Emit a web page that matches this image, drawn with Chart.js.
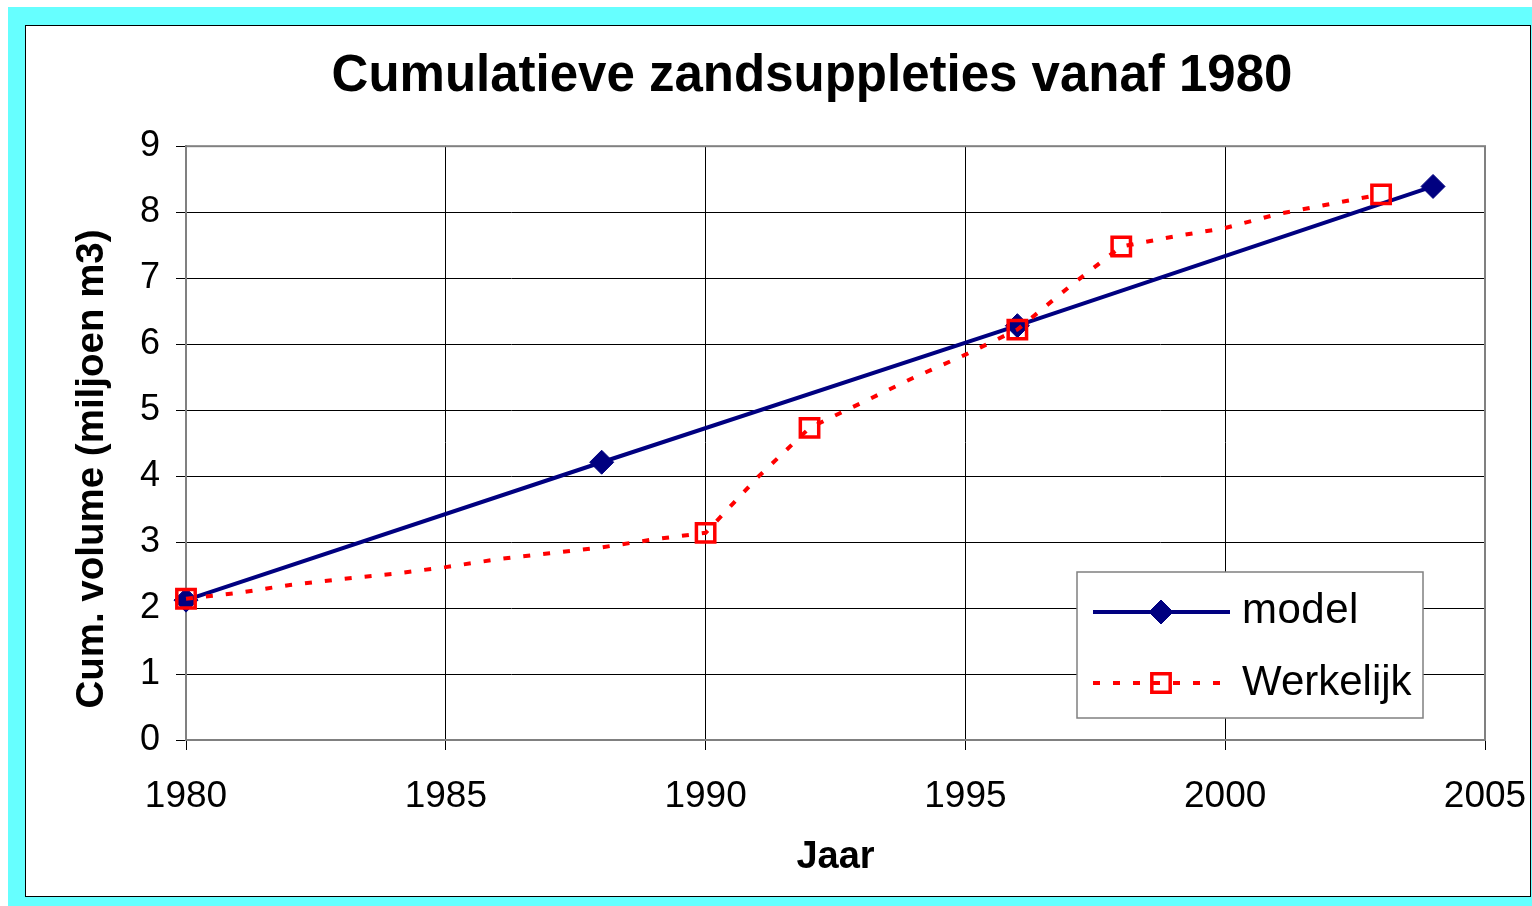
<!DOCTYPE html>
<html>
<head>
<meta charset="utf-8">
<title>Cumulatieve zandsuppleties vanaf 1980</title>
<script src="https://cdn.jsdelivr.net/npm/chart.js@4.4.1/dist/chart.umd.min.js"></script>
<style>
  body { margin: 0; background: #fff; width: 1532px; height: 906px; overflow: hidden; position: relative; }
  #rand { position: absolute; left: 8px; top: 7px; width: 1524px; height: 899px; background: #66ffff; }
  #vlak { position: absolute; left: 25px; top: 25px; width: 1506px; height: 872px; background: #fff; border: 1px solid #000; box-sizing: border-box; }
  #grafiek { position: absolute; left: 0; top: 0; z-index: 1; }
</style>
</head>
<body>
<div id="rand"></div>
<div id="vlak"></div>
<canvas id="grafiek" width="1532" height="906"></canvas>
<script>
// Gegevens
const modelJaren = [1980, 1988, 1996, 2004];
const modelVolume = [2.12, 4.21, 6.28, 8.39];

const werkelijkJaren = [1980, 1981, 1982, 1983, 1984, 1985, 1986, 1987, 1988, 1989, 1990, 1991,
  1992, 1993, 1994, 1995, 1996, 1997, 1998, 1999, 2000, 2001, 2002, 2003];
const werkelijkVolume = [2.14, 2.23, 2.35, 2.44, 2.52, 2.62, 2.74, 2.83, 2.92, 3.04, 3.14, 3.98,
  4.73, 5.11, 5.49, 5.84, 6.22, 6.87, 7.48, 7.63, 7.76, 7.97, 8.12, 8.27];
// jaren waarop een marker staat
const markerJaren = [1980, 1990, 1992, 1996, 1998, 2003];

const xTicks = [1980, 1985, 1990, 1995, 2000, 2005];
const yTicks = [0, 1, 2, 3, 4, 5, 6, 7, 8, 9];

const FONT = "'Liberation Sans', Arial, sans-serif";
Chart.defaults.font.family = FONT;
Chart.defaults.color = "#000";

// Kader rond het plotgebied (grijs, zoals Excel)
const kaderPlugin = {
  id: "kader",
  beforeDatasetsDraw(chart) {
    const { ctx, chartArea: a } = chart;
    ctx.save();
    ctx.strokeStyle = "#808080";
    ctx.lineWidth = 2;
    ctx.strokeRect(a.left, a.top, a.right - a.left, a.bottom - a.top);
    ctx.restore();
  },
};

// As-titel links (gedraaid)
const yTitelPlugin = {
  id: "yTitel",
  afterDraw(chart) {
    const ctx = chart.ctx;
    ctx.save();
    ctx.translate(92, 469);
    ctx.rotate(-Math.PI / 2);
    ctx.font = "bold 38.5px " + FONT;
    ctx.fillStyle = "#000";
    ctx.textAlign = "center";
    ctx.textBaseline = "middle";
    ctx.fillText("Cum. volume (miljoen m3)", 0, 0);
    ctx.restore();
  },
};

// Legenda in het plotgebied
const legendaPlugin = {
  id: "legenda",
  afterDraw(chart) {
    const ctx = chart.ctx;
    const box = { x: 1077, y: 572, w: 346, h: 146 };
    ctx.save();
    ctx.fillStyle = "#fff";
    ctx.fillRect(box.x, box.y, box.w, box.h);
    ctx.strokeStyle = "#808080";
    ctx.lineWidth = 1.5;
    ctx.strokeRect(box.x, box.y, box.w, box.h);
    ctx.restore();

    const rijen = [
      { ds: chart.data.datasets[0], y: 612 },
      { ds: chart.data.datasets[1], y: 683 },
    ];
    rijen.forEach(({ ds, y }) => {
      ctx.save();
      ctx.strokeStyle = ds.borderColor;
      ctx.lineWidth = ds.borderWidth;
      ctx.setLineDash(ds.borderDash || []);
      ctx.beginPath();
      ctx.moveTo(1093, y);
      ctx.lineTo(1230, y);
      ctx.stroke();
      ctx.restore();

      ctx.save();
      ctx.fillStyle = ds.pointBackgroundColor;
      ctx.strokeStyle = ds.pointBorderColor;
      ctx.lineWidth = ds.pointBorderWidth;
      Chart.helpers.drawPoint(ctx, {
        pointStyle: ds.pointStyle,
        radius: ds.legendRadius,
        borderWidth: ds.pointBorderWidth,
      }, 1161, y);
      ctx.restore();
    });

    // tekst
    ctx.save();
    ctx.fillStyle = "#000";
    ctx.font = "42px " + FONT;
    ctx.textBaseline = "alphabetic";
    ctx.letterSpacing = "0.5px";
    ctx.fillText("model", 1242, 623);
    ctx.letterSpacing = "0px";
    ctx.fillText("Werkelijk", 1242, 695);
    ctx.restore();
  },
};

const ctx = document.getElementById("grafiek").getContext("2d");

new Chart(ctx, {
  type: "line",
  data: {
    datasets: [
      {
        label: "model",
        data: modelJaren.map((j, i) => ({ x: j, y: modelVolume[i] })),
        borderColor: "#000080",
        borderWidth: 4,
        pointStyle: "rectRot",
        pointRadius: 12,
        legendRadius: 12,
        pointBackgroundColor: "#000080",
        pointBorderColor: "#000080",
        pointBorderWidth: 1,
        tension: 0,
        order: 1,
        clip: false,
      },
      {
        label: "Werkelijk",
        data: werkelijkJaren.map((j, i) => ({ x: j, y: werkelijkVolume[i] })),
        borderColor: "#ff0000",
        borderWidth: 4,
        borderDash: [7, 13],
        pointStyle: "rect",
        pointRadius: werkelijkJaren.map((j) => (markerJaren.includes(j) ? 13 : 0)),
        legendRadius: 13,
        pointBackgroundColor: "rgba(0,0,0,0)",
        pointBorderColor: "#ff0000",
        pointBorderWidth: 3.5,
        tension: 0,
        order: 0,
        clip: false,
      },
    ],
  },
  options: {
    responsive: false,
    animation: false,
    events: [],
    layout: { padding: { left: 139, right: 47, top: 0, bottom: 0 } },
    scales: {
      x: {
        type: "linear",
        min: 1980,
        max: 2005,
        afterBuildTicks: (scale) => {
          scale.ticks = xTicks.map((v) => ({ value: v }));
        },
        afterFit: (scale) => {
          scale.height = 166;
          scale.paddingLeft = 0;
          scale.paddingRight = 0;
        },
        ticks: {
          font: { size: 37 },
          padding: 25,
          callback: (v) => String(v),
        },
        grid: { color: "#000", lineWidth: 1, tickLength: 10, tickColor: "#000" },
        border: { color: "#808080", width: 2 },
        title: {
          display: true,
          text: "Jaar",
          font: { size: 38, weight: "bold" },
          padding: { top: 0, bottom: 26 },
        },
      },
      y: {
        min: 0,
        max: 9,
        afterBuildTicks: (scale) => {
          scale.ticks = yTicks.map((v) => ({ value: v }));
        },
        afterFit: (scale) => {
          scale.width = 47;
        },
        ticks: {
          font: { size: 36 },
          padding: 16,
        },
        grid: { color: "#000", lineWidth: 1, tickLength: 10, tickColor: "#000" },
        border: { color: "#808080", width: 2 },
      },
    },
    plugins: {
      legend: { display: false },
      tooltip: { enabled: false },
      title: {
        display: true,
        text: "Cumulatieve zandsuppleties vanaf 1980",
        color: "#000",
        font: { size: 51, weight: "bold" },
        padding: { top: 46, bottom: 39 },
      },
    },
  },
  plugins: [kaderPlugin, yTitelPlugin, legendaPlugin],
});
</script>
</body>
</html>
